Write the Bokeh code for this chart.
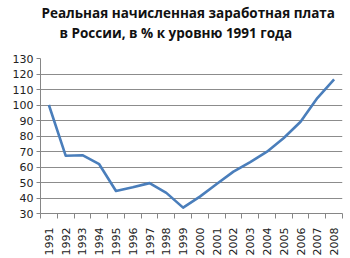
from bokeh.plotting import figure
from bokeh.models import FixedTicker, Range1d, Title
from bokeh.embed import file_html
from bokeh.resources import INLINE

years = list(range(1991, 2009))
wages = [100, 67.3, 67.6, 61.8, 44.5, 46.9, 49.6, 43.3, 33.8, 40.9,
         49.0, 57.0, 63.2, 69.9, 78.7, 89.2, 104.5, 116.5]
y_ticks = list(range(30, 131, 10))
title_line1 = "Реальная начисленная заработная плата"
title_line2 = "в России, в % к уровню 1991 года"

p = figure(width=350, height=258, output_backend="svg", toolbar_location=None,
           x_range=Range1d(years[0] - 0.5, years[-1] + 0.5),
           y_range=Range1d(30, 130),
           min_border_left=40, min_border_right=8, min_border_top=58, min_border_bottom=45)

# spacer between frame and title block
p.add_layout(Title(text=" ", text_font_size="1px", standoff=14), "above")
for text, off in ((title_line2, 19), (title_line1, 1)):
    t = Title(text=text, align="left", text_font="Open Sans", text_font_style="bold",
              text_font_size="13.5px", text_color="#111111", standoff=0, offset=off)
    p.add_layout(t, "above")

p.outline_line_color = None
p.background_fill_color = "white"

p.line(years, wages, line_color="#4a7ebb", line_width=2.6, line_join="round")

# y axis
p.yaxis.ticker = FixedTicker(ticks=y_ticks)
p.yaxis.major_label_text_font = "DejaVu Sans"
p.yaxis.major_label_text_font_size = "11px"
p.yaxis.major_label_text_color = "#222222"
p.yaxis.axis_line_color = "#868686"
p.yaxis.major_tick_line_color = "#868686"
p.yaxis.major_tick_out = 4
p.yaxis.major_tick_in = 0
p.yaxis.minor_tick_line_color = None
p.yaxis.major_label_standoff = 3

# x axis
p.xaxis.ticker = FixedTicker(ticks=years, minor_ticks=[y - 0.5 for y in years] + [years[-1] + 0.5])
p.xaxis.major_label_overrides = {y: str(y) for y in years}
p.xaxis.major_label_orientation = 3.14159265 / 2
p.xaxis.major_label_text_font = "DejaVu Sans"
p.xaxis.major_label_text_font_size = "11px"
p.xaxis.major_label_text_color = "#222222"
p.xaxis.axis_line_color = "#868686"
p.xaxis.major_tick_line_color = None
p.xaxis.minor_tick_line_color = "#868686"
p.xaxis.minor_tick_out = 5
p.xaxis.minor_tick_in = 0
p.xaxis.major_label_standoff = 8

p.xgrid.grid_line_color = None
p.ygrid.grid_line_color = "#8c8c8c"
p.ygrid.grid_line_width = 1

open("out.html", "w").write(file_html(p, INLINE))
